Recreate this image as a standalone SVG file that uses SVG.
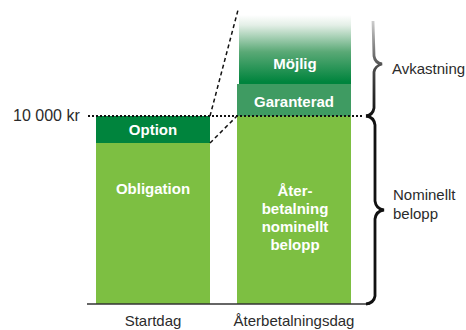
<svg xmlns="http://www.w3.org/2000/svg" width="466" height="330" viewBox="0 0 466 330">
<style>
.lbl{font-family:"Liberation Sans",Arial,sans-serif;font-size:15px;fill:#2b2b2b}
.in{font-family:"Liberation Sans",Arial,sans-serif;font-size:15px;font-weight:bold;fill:#fff;text-anchor:middle}
.light{fill:#7dbf42}
.dark{fill:#00843d}
.mid{fill:#3f9b62}
</style>
<defs>
<linearGradient id="fade" x1="0" y1="15" x2="0" y2="82" gradientUnits="userSpaceOnUse">
<stop offset="0" stop-color="#ffffff"/>
<stop offset="0.15" stop-color="#e4efe7"/>
<stop offset="0.55" stop-color="#5aa976"/>
<stop offset="1" stop-color="#00843d"/>
</linearGradient>
<linearGradient id="brGrad" x1="0" y1="20" x2="0" y2="116" gradientUnits="userSpaceOnUse">
<stop offset="0" stop-color="#d0d0d0"/>
<stop offset="0.5" stop-color="#4a4a4a"/>
<stop offset="1" stop-color="#111111"/>
</linearGradient>
</defs>
<g id="startdag">
<rect class="light" x="96" y="143" width="114" height="161"/>
<rect class="dark" x="96" y="116" width="114" height="27"/>
<text class="in" x="153" y="135">Option</text>
<text class="in" x="153" y="194">Obligation</text>
</g>
<g id="aterbetalningsdag">
<rect x="239" y="15" width="112" height="71" fill="url(#fade)"/>
<rect class="mid" x="237" y="84" width="114" height="32"/>
<rect class="light" x="237" y="116" width="114" height="188"/>
<text class="in" x="295" y="69">Möjlig</text>
<text class="in" x="294" y="107">Garanterad</text>
<text class="in" x="295" y="196">Åter-</text>
<text class="in" x="295" y="214">betalning</text>
<text class="in" x="295" y="232">nominellt</text>
<text class="in" x="295" y="250">belopp</text>
</g>
<g id="connectors" fill="none">
<line x1="87" y1="304" x2="370" y2="304" stroke="#333" stroke-width="1.5"/>
<line x1="88" y1="116" x2="364" y2="116" stroke="#111" stroke-width="2" stroke-dasharray="2,2"/>
<line x1="210" y1="116" x2="238" y2="10" stroke="#111" stroke-width="1.5" stroke-dasharray="4,3"/>
<line x1="210" y1="143" x2="237" y2="116" stroke="#111" stroke-width="1.5" stroke-dasharray="4,3"/>
<path d="M373,21 L374,56 Q375,63 382,64 Q375,66 374,72 L374,108 Q373,115 366,116" stroke="url(#brGrad)" stroke-width="2.8"/>
<path d="M366,116 Q374,117 375,125 L375,201 Q376,209 384,210 Q376,211 375,219 L375,296 Q374,303 366,304" stroke="#111" stroke-width="2.8"/>
</g>
<g id="labels">
<text class="lbl" x="13" y="121" style="font-size:16px">10 000 kr</text>
<text class="lbl" x="392" y="74">Avkastning</text>
<text class="lbl" x="393" y="200">Nominellt</text>
<text class="lbl" x="393" y="219">belopp</text>
<text class="lbl" x="153" y="326" text-anchor="middle">Startdag</text>
<text class="lbl" x="294" y="326" text-anchor="middle">Återbetalningsdag</text>
</g>
</svg>
